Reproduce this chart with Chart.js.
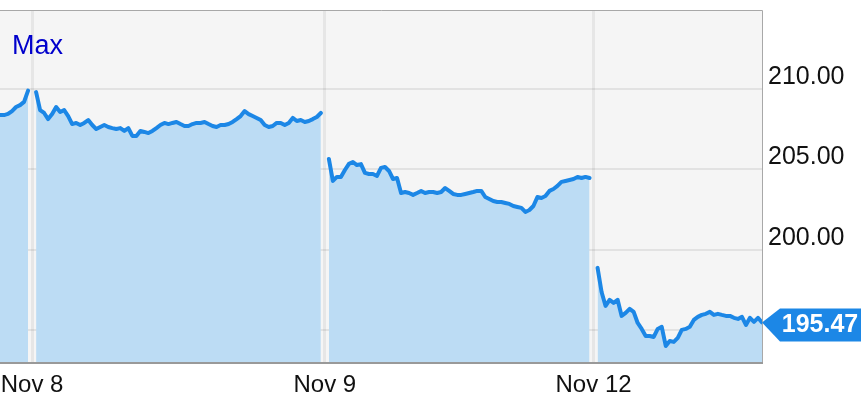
<!DOCTYPE html>
<html>
<head>
<meta charset="utf-8">
<script src="https://cdn.jsdelivr.net/npm/chart.js@4"></script>
<style>
  html, body { margin: 0; padding: 0; background: #fff; }
  canvas { display: block; }
</style>
</head>
<body>
<canvas id="chart" width="861" height="400"></canvas>
<script>
// intraday prices, one sample every few minutes
const nov7Tail = [208.38, 208.38, 208.45, 208.63, 208.88, 209.00, 209.20, 209.90];
const nov8 = [
  209.81, 208.69, 208.51, 208.13, 208.44, 208.88, 208.57, 208.69, 208.32, 207.82,
  207.89, 207.76, 207.89, 208.07, 207.76, 207.51, 207.64, 207.76, 207.64, 207.57,
  207.51, 207.57, 207.39, 207.57, 207.08, 207.08, 207.39, 207.33, 207.26, 207.39,
  207.57, 207.76, 207.89, 207.82, 207.89, 207.95, 207.82, 207.70, 207.70, 207.82,
  207.89, 207.89, 207.95, 207.82, 207.70, 207.64, 207.76, 207.76, 207.82, 207.95,
  208.13, 208.32, 208.63, 208.44, 208.32, 208.20, 208.07, 207.76, 207.64, 207.70,
  207.89, 207.89, 207.76, 207.89, 208.20, 208.01, 208.07, 207.95, 208.01, 208.13,
  208.26, 208.51
];
const nov9 = [
  205.65, 204.28, 204.53, 204.53, 204.96, 205.34, 205.46, 205.27, 205.33, 204.78,
  204.71, 204.71, 204.59, 205.09, 205.15, 204.90, 204.40, 204.46, 203.53, 203.59,
  203.53, 203.41, 203.53, 203.66, 203.53, 203.59, 203.59, 203.53, 203.59, 203.84,
  203.66, 203.47, 203.41, 203.41, 203.47, 203.53, 203.59, 203.66, 203.66, 203.28,
  203.16, 203.03, 202.97, 202.97, 202.91, 202.85, 202.72, 202.66, 202.60, 202.35,
  202.47, 202.72, 203.28, 203.22, 203.34, 203.66, 203.78, 203.97, 204.22, 204.28,
  204.34, 204.40, 204.53, 204.46, 204.53, 204.46
];
const nov12 = [
  198.87, 197.37, 196.50, 196.88, 196.69, 196.88, 195.88, 196.07, 196.32, 196.13,
  195.44, 195.07, 194.63, 194.63, 194.57, 195.07, 195.20, 194.01, 194.32, 194.26,
  194.51, 195.01, 195.07, 195.20, 195.63, 195.82, 195.94, 196.01, 196.13, 195.94,
  196.01, 195.94, 195.88, 195.88, 195.76, 195.69, 195.82, 195.32, 195.76, 195.51,
  195.76, 195.47
];
const dayLabels = ['Nov 8', 'Nov 9', 'Nov 12'];
const yTicks = [195, 200, 205, 210];
const lastPrice = 195.47;
const rangeLabel = 'Max';

// join the sessions with a null between them so the line breaks
const points = [];
const dayStarts = [];
[nov7Tail, nov8, nov9, nov12].forEach((day, d) => {
  if (d > 0) {
    dayStarts.push(points.length);
    points.push({ x: points.length, y: null });
  }
  day.forEach(v => points.push({ x: points.length, y: v }));
});

const lineBlue = 'rgb(28, 135, 230)';
const font = '"Liberation Sans", Arial, sans-serif';

// labels sit off the edges, so don't let chart.js reserve room for them
function noEdgePadding(axis) {
  axis.paddingLeft = 0;
  axis.paddingRight = 0;
  axis.paddingTop = 0;
  axis.paddingBottom = 0;
}

const decor = {
  id: 'decor',
  beforeDraw(chart) {
    const { ctx, chartArea: a } = chart;
    ctx.save();
    ctx.fillStyle = '#fff';
    ctx.fillRect(0, 0, chart.width, chart.height);
    ctx.fillStyle = '#f5f5f5';
    ctx.fillRect(a.left, a.top, a.right - a.left, a.bottom - a.top);
    ctx.restore();
  },
  afterDraw(chart) {
    const { ctx, chartArea: a } = chart;
    ctx.save();
    // frame
    ctx.strokeStyle = '#a8a8a8';
    ctx.lineWidth = 1;
    ctx.beginPath();
    ctx.moveTo(a.left, a.top + 0.5);
    ctx.lineTo(a.right + 0.5, a.top + 0.5);
    ctx.lineTo(a.right + 0.5, a.bottom);
    ctx.stroke();
    ctx.strokeStyle = '#999';
    ctx.lineWidth = 2;
    ctx.beginPath();
    ctx.moveTo(a.left, a.bottom + 1);
    ctx.lineTo(a.right + 1, a.bottom + 1);
    ctx.stroke();

    // range label
    ctx.fillStyle = '#0000cc';
    ctx.font = '27px ' + font;
    ctx.textBaseline = 'alphabetic';
    ctx.textAlign = 'left';
    ctx.fillText(rangeLabel, 12, 54);

    // last price tag
    const y = chart.scales.y.getPixelForValue(lastPrice);
    const tip = a.right;
    ctx.fillStyle = lineBlue;
    ctx.beginPath();
    ctx.moveTo(tip, y);
    ctx.lineTo(tip + 18, y - 14);
    ctx.lineTo(861, y - 14);
    ctx.lineTo(861, y + 19);
    ctx.lineTo(tip + 18, y + 19);
    ctx.closePath();
    ctx.fill();
    ctx.fillStyle = '#fff';
    ctx.font = 'bold 25px ' + font;
    ctx.textAlign = 'center';
    ctx.textBaseline = 'middle';
    ctx.fillText(lastPrice.toFixed(2), 820, y + 3);
    ctx.restore();
  }
};

new Chart(document.getElementById('chart'), {
  type: 'line',
  data: {
    datasets: [{
      data: points,
      borderColor: lineBlue,
      backgroundColor: 'rgb(188, 220, 244)',
      borderWidth: 4,
      borderJoinStyle: 'round',
      borderCapStyle: 'round',
      pointRadius: 0,
      tension: 0,
      fill: 'start',
      spanGaps: false
    }]
  },
  options: {
    responsive: false,
    animation: false,
    devicePixelRatio: 1,
    layout: { padding: { top: 10, left: 0, right: 0, bottom: 0 } },
    plugins: { legend: { display: false }, tooltip: { enabled: false } },
    scales: {
      x: {
        type: 'linear',
        min: 0,
        max: points.length - 1,
        z: 1,
        afterBuildTicks: axis => { axis.ticks = dayStarts.map(v => ({ value: v })); },
        afterFit: axis => { axis.height = 38; noEdgePadding(axis); },
        grid: { color: '#e6e6e6', lineWidth: 3, drawTicks: false },
        border: { display: false },
        ticks: {
          callback: (v, i) => dayLabels[i],
          color: '#111',
          font: { family: font, size: 24 },
          padding: 9,
          maxRotation: 0,
          autoSkip: false
        }
      },
      y: {
        position: 'right',
        min: 193.01,
        max: 214.92,
        z: 1,
        afterBuildTicks: axis => { axis.ticks = yTicks.map(v => ({ value: v })); },
        afterFit: axis => { axis.width = 99; noEdgePadding(axis); },
        grid: { color: 'rgba(0, 0, 0, 0.075)', lineWidth: 2, drawTicks: false },
        border: { display: false },
        ticks: {
          // the price tag hides the label next to it
          callback: v => Math.abs(v - lastPrice) < 1.5 ? '' : v.toFixed(2),
          color: '#111',
          font: { family: font, size: 25 },
          padding: 6,
          labelOffset: -12
        }
      }
    }
  },
  plugins: [decor]
});
</script>
</body>
</html>
